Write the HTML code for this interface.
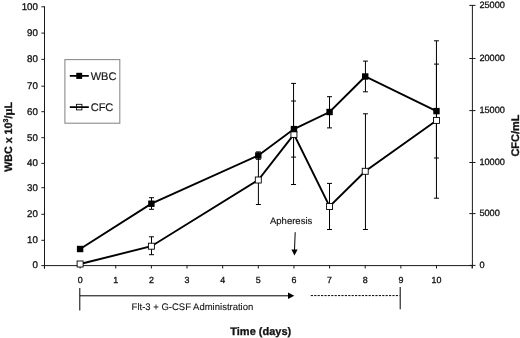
<!DOCTYPE html>
<html><head><meta charset="utf-8"><title>WBC and CFC over time</title>
<style>
html,body{margin:0;padding:0;background:#fff;}
body{width:520px;height:338px;overflow:hidden;}
svg{display:block;font-family:"Liberation Sans",sans-serif;fill:#111;text-rendering:geometricPrecision;}
.t{font-size:9.8px;}
text{stroke:#111;stroke-width:0.3px;paint-order:stroke;}
.b{font-weight:bold;}
</style></head><body>
<svg width="520" height="338" viewBox="0 0 520 338">
<rect x="0" y="0" width="520" height="338" fill="#fff" stroke="none"/>

<g stroke="#1a1a1a" stroke-width="1" fill="none">
<path d="M44.5 6.3 V268.6 M44.5 265.6 H472.4 M472.4 5 V268.2"/>
<path d="M41.4 265.60 H44.5"/>
<path d="M41.4 240.30 H44.5"/>
<path d="M41.4 214.30 H44.5"/>
<path d="M41.4 187.70 H44.5"/>
<path d="M41.4 163.40 H44.5"/>
<path d="M41.4 137.70 H44.5"/>
<path d="M41.4 111.70 H44.5"/>
<path d="M41.4 86.20 H44.5"/>
<path d="M41.4 59.40 H44.5"/>
<path d="M41.4 33.10 H44.5"/>
<path d="M41.4 6.80 H44.5"/>
<path d="M469.3 265.40 H475.5"/>
<path d="M469.3 213.60 H475.5"/>
<path d="M469.3 162.50 H475.5"/>
<path d="M469.3 110.60 H475.5"/>
<path d="M469.3 58.50 H475.5"/>
<path d="M469.3 5.40 H475.5"/>
<path d="M44.46 265.6 V268.5"/>
<path d="M80.10 265.6 V268.5"/>
<path d="M115.74 265.6 V268.5"/>
<path d="M151.38 265.6 V268.5"/>
<path d="M187.02 265.6 V268.5"/>
<path d="M222.66 265.6 V268.5"/>
<path d="M258.30 265.6 V268.5"/>
<path d="M293.94 265.6 V268.5"/>
<path d="M329.58 265.6 V268.5"/>
<path d="M365.22 265.6 V268.5"/>
<path d="M400.86 265.6 V268.5"/>
<path d="M436.50 265.6 V268.5"/>
<path d="M472.14 265.6 V268.5"/>
</g>
<g style="font-size:9.7px;stroke-width:0.28px" text-anchor="end">
<text x="37.8" y="268.40">0</text>
<text x="37.8" y="243.10">10</text>
<text x="37.8" y="217.10">20</text>
<text x="37.8" y="190.50">30</text>
<text x="37.8" y="166.20">40</text>
<text x="37.8" y="140.50">50</text>
<text x="37.8" y="114.50">60</text>
<text x="37.8" y="89.00">70</text>
<text x="37.8" y="62.20">80</text>
<text x="37.8" y="35.90">90</text>
<text x="37.8" y="9.60">100</text>
</g><g style="font-size:9.2px;stroke-width:0.15px">
<text x="479.4" y="267.70">0</text>
<text x="479.4" y="215.90">5000</text>
<text x="479.4" y="164.80">10000</text>
<text x="479.4" y="112.90">15000</text>
<text x="479.4" y="60.80">20000</text>
<text x="479.4" y="7.70">25000</text>
</g><g style="font-size:8.9px;stroke-width:0.12px" text-anchor="middle">
<text x="80.10" y="282.5">0</text>
<text x="115.74" y="282.5">1</text>
<text x="151.38" y="282.5">2</text>
<text x="187.02" y="282.5">3</text>
<text x="222.66" y="282.5">4</text>
<text x="258.30" y="282.5">5</text>
<text x="293.94" y="282.5">6</text>
<text x="329.58" y="282.5">7</text>
<text x="365.22" y="282.5">8</text>
<text x="400.86" y="282.5">9</text>
<text x="436.50" y="282.5">10</text>
</g>
<g stroke="#000" stroke-width="1" fill="none">
<path d="M151.50 197.7 V209.3 M149.00 197.7 H154.00 M149.00 209.3 H154.00"/>
<path d="M151.50 236.8 V254.7 M149.00 236.8 H154.00 M149.00 254.7 H154.00"/>
<path d="M258.40 151.9 V159.3 M255.90 151.9 H260.90 M255.90 159.3 H260.90"/>
<path d="M258.40 155.5 V204.5 M255.90 155.5 H260.90 M255.90 204.5 H260.90"/>
<path d="M293.55 101 V157.1 M291.05 101 H296.05 M291.05 157.1 H296.05"/>
<path d="M293.55 83.4 V184.5 M291.05 83.4 H296.05 M291.05 184.5 H296.05"/>
<path d="M329.50 96.7 V127.9 M327.00 96.7 H332.00 M327.00 127.9 H332.00"/>
<path d="M329.50 183.4 V229.5 M327.00 183.4 H332.00 M327.00 229.5 H332.00"/>
<path d="M365.45 61.1 V91.8 M362.95 61.1 H367.95 M362.95 91.8 H367.95"/>
<path d="M365.45 113.8 V229.5 M362.95 113.8 H367.95 M362.95 229.5 H367.95"/>
<path d="M436.45 64.1 V158 M433.95 64.1 H438.95 M433.95 158 H438.95"/>
<path d="M436.45 40.8 V198.2 M433.95 40.8 H438.95 M433.95 198.2 H438.95"/>
</g>
<polyline points="80.10,264 151.38,246.2 258.30,180 293.94,134.4 329.58,206.5 365.22,171.3 436.50,120.4" fill="none" stroke="#000" stroke-width="1.9"/>
<polyline points="80.10,249 151.38,203.7 258.30,155.5 293.94,129.1 329.58,112 365.22,76.5 436.50,111.1" fill="none" stroke="#000" stroke-width="1.9"/>
<rect x="77.10" y="261.00" width="6" height="6" fill="#fff" stroke="#000" stroke-width="0.9"/>
<rect x="148.38" y="243.20" width="6" height="6" fill="#fff" stroke="#000" stroke-width="0.9"/>
<rect x="255.30" y="177.00" width="6" height="6" fill="#fff" stroke="#000" stroke-width="0.9"/>
<rect x="290.94" y="131.40" width="6" height="6" fill="#fff" stroke="#000" stroke-width="0.9"/>
<rect x="326.58" y="203.50" width="6" height="6" fill="#fff" stroke="#000" stroke-width="0.9"/>
<rect x="362.22" y="168.30" width="6" height="6" fill="#fff" stroke="#000" stroke-width="0.9"/>
<rect x="433.50" y="117.40" width="6" height="6" fill="#fff" stroke="#000" stroke-width="0.9"/>
<rect x="76.90" y="245.80" width="6.4" height="6.4" fill="#000" stroke="none"/>
<rect x="148.18" y="200.50" width="6.4" height="6.4" fill="#000" stroke="none"/>
<rect x="255.10" y="152.30" width="6.4" height="6.4" fill="#000" stroke="none"/>
<rect x="290.74" y="125.90" width="6.4" height="6.4" fill="#000" stroke="none"/>
<rect x="326.38" y="108.80" width="6.4" height="6.4" fill="#000" stroke="none"/>
<rect x="362.02" y="73.30" width="6.4" height="6.4" fill="#000" stroke="none"/>
<rect x="433.30" y="107.90" width="6.4" height="6.4" fill="#000" stroke="none"/>
<rect x="64.9" y="59.6" width="54.9" height="63.6" fill="#fff" stroke="#8c8c8c" stroke-width="1.1"/>
<path d="M69.8 75.9 H88.8 M69.8 107.1 H88.8" stroke="#000" stroke-width="1.9"/>
<rect x="76.25" y="72.8" width="5.9" height="6.1" fill="#000"/>
<rect x="76.5" y="104.3" width="5.4" height="5.6" fill="none" stroke="#000" stroke-width="0.85"/>
<text x="90.7" y="79.8" font-size="11px" style="stroke-width:0.15px">WBC</text>
<text x="90.7" y="111" font-size="11px" style="stroke-width:0.15px">CFC</text>
<text x="270" y="223.7" font-size="9.5px" style="stroke-width:0.15px">Apheresis</text>
<path d="M295.2 232.2 L294.5 250.5" stroke="#000" stroke-width="1" fill="none"/>
<path d="M291.4 249.6 H297.6 L294.5 255.5 Z" fill="#000"/>
<path d="M79.8 288 V310.5 M79.8 295.8 H289" stroke="#000" stroke-width="1" fill="none"/>
<path d="M288 292.6 L294.3 295.8 L288 299 Z" fill="#000"/>
<path d="M310.8 295.6 H399.5" stroke="#000" stroke-width="1" fill="none" stroke-dasharray="2.2 1.2"/>
<path d="M400.2 287 V309.3" stroke="#000" stroke-width="1" fill="none"/>
<text x="131.6" y="309.8" font-size="9.5px" style="stroke-width:0.1px">Flt-3 + G-CSF Administration</text>
<text x="260.75" y="334.5" font-size="11px" class="b" text-anchor="middle">Time (days)</text>
<text transform="translate(11.8 171.8) rotate(-90)" font-size="10.7px" class="b">WBC x 10<tspan font-size="7px" dy="-3.5">3</tspan><tspan dy="3.5">/</tspan><tspan font-family="'Liberation Serif',serif" font-weight="bold" font-size="12.5px">μ</tspan>L</text>
<text transform="translate(518.5 156.6) rotate(-90)" font-size="11px" class="b">CFC/mL</text>
</svg></body></html>
